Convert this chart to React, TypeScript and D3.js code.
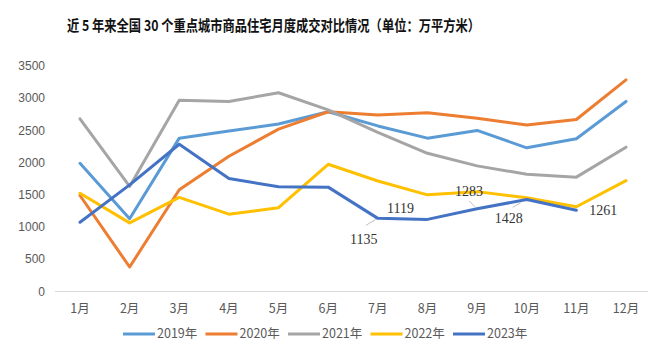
import { useRef, useEffect } from "react";
import * as d3 from "d3";

const months = ["1月", "2月", "3月", "4月", "5月", "6月", "7月", "8月", "9月", "10月", "11月", "12月"];
const years = ["2019年", "2020年", "2021年", "2022年", "2023年"];
const colors = ["#5B9BD5", "#ED7D31", "#A5A5A5", "#FFC000", "#4472C4"];

const v2019 = [1990, 1130, 2380, 2490, 2600, 2790, 2570, 2380, 2500, 2230, 2370, 2950];
const v2020 = [1490, 380, 1580, 2100, 2520, 2790, 2740, 2775, 2690, 2585, 2670, 3285];
const v2021 = [2680, 1630, 2970, 2950, 3085, 2820, 2470, 2145, 1950, 1820, 1775, 2240];
const v2022 = [1525, 1065, 1460, 1200, 1300, 1975, 1715, 1500, 1550, 1455, 1315, 1720];
const v2023 = [1075, 1655, 2285, 1755, 1625, 1620, 1135, 1119, 1283, 1428, 1261];

const yTicks = [0, 500, 1000, 1500, 2000, 2500, 3000, 3500];

// 2023 labels: month index, offset of text from the point, optional leader offsets
const labels = [
  { i: 6, dx: -14, dy: 21, lead: [-12, 7, -2, 1] },
  { i: 7, dx: -27, dy: -11, lead: null },
  { i: 8, dx: -8, dy: -18, lead: [-8, -8, -2, -2] },
  { i: 9, dx: -18, dy: 18.5, lead: [-14, 8, -6, 3] },
  { i: 10, dx: 27, dy: 0, lead: null },
];

const width = 652;
const height = 354;

const App = () => {
  const svgRef = useRef<SVGSVGElement>(null);

  useEffect(() => {
    const svg = d3.select(svgRef.current);
    svg.selectAll("*").remove();

    const x = d3.scalePoint().domain(months).range([80, 626]);
    const y = d3.scaleLinear().domain([0, 3500]).range([291.5, 66]);

    svg
      .append("text")
      .attr("x", 67)
      .attr("y", 30.5)
      .attr("font-family", "'Noto Sans CJK SC', sans-serif")
      .attr("font-weight", "bold")
      .attr("font-size", 15)
      .attr("textLength", 413)
      .attr("lengthAdjust", "spacingAndGlyphs")
      .attr("fill", "#111")
      .text("近 5 年来全国 30 个重点城市商品住宅月度成交对比情况（单位：万平方米）");

    svg
      .append("line")
      .attr("x1", 55)
      .attr("x2", 648)
      .attr("y1", y(0))
      .attr("y2", y(0))
      .attr("stroke", "#d9d9d9")
      .attr("stroke-width", 1);

    svg
      .selectAll(".ytick")
      .data(yTicks)
      .enter()
      .append("text")
      .attr("x", 45)
      .attr("y", (d) => y(d))
      .attr("dy", "0.35em")
      .attr("text-anchor", "end")
      .attr("font-family", "'Liberation Sans', Arial, sans-serif")
      .attr("font-size", 12)
      .attr("fill", "#595959")
      .text((d) => d);

    svg
      .selectAll(".xtick")
      .data(months)
      .enter()
      .append("text")
      .attr("x", (d) => x(d)!)
      .attr("y", 309)
      .attr("dy", "0.35em")
      .attr("text-anchor", "middle")
      .attr("font-family", "'Noto Sans CJK SC', sans-serif")
      .attr("font-size", 12.5)
      .attr("fill", "#595959")
      .text((d) => d);

    const series = [v2019, v2020, v2021, v2022, v2023];
    const line = d3
      .line<number>()
      .x((_, i) => x(months[i])!)
      .y((d) => y(d));

    series.forEach((vals, k) => {
      svg
        .append("path")
        .datum(vals)
        .attr("d", line)
        .attr("fill", "none")
        .attr("stroke", colors[k])
        .attr("stroke-width", 3)
        .attr("stroke-linejoin", "round")
        .attr("stroke-linecap", "round");
    });

    labels.forEach((l) => {
      const px = x(months[l.i])!;
      const py = y(v2023[l.i]);
      if (l.lead) {
        svg
          .append("line")
          .attr("x1", px + l.lead[0])
          .attr("y1", py + l.lead[1])
          .attr("x2", px + l.lead[2])
          .attr("y2", py + l.lead[3])
          .attr("stroke", "#bfbfbf")
          .attr("stroke-width", 1);
      }
      svg
        .append("text")
        .attr("x", px + l.dx)
        .attr("y", py + l.dy)
        .attr("dy", "0.35em")
        .attr("text-anchor", "middle")
        .attr("font-family", "'Liberation Serif', serif")
        .attr("font-size", 14)
        .attr("fill", "#333")
        .text(v2023[l.i]);
    });

    const legend = svg
      .selectAll(".legend")
      .data(years)
      .enter()
      .append("g")
      .attr("transform", (_, i) => `translate(${123 + i * 82.5},334)`);

    legend
      .append("line")
      .attr("x1", 0)
      .attr("x2", 32)
      .attr("stroke", (_, i) => colors[i])
      .attr("stroke-width", 3);

    legend
      .append("text")
      .attr("x", 34)
      .attr("dy", "0.35em")
      .attr("font-family", "'Noto Sans CJK SC', sans-serif")
      .attr("font-size", 12.5)
      .attr("fill", "#595959")
      .text((d) => d);
  }, []);

  return (
    <svg
      ref={svgRef}
      width={width}
      height={height}
      style={{ position: "absolute", left: 0, top: 0, background: "#fff" }}
    ></svg>
  );
};

export default App;
